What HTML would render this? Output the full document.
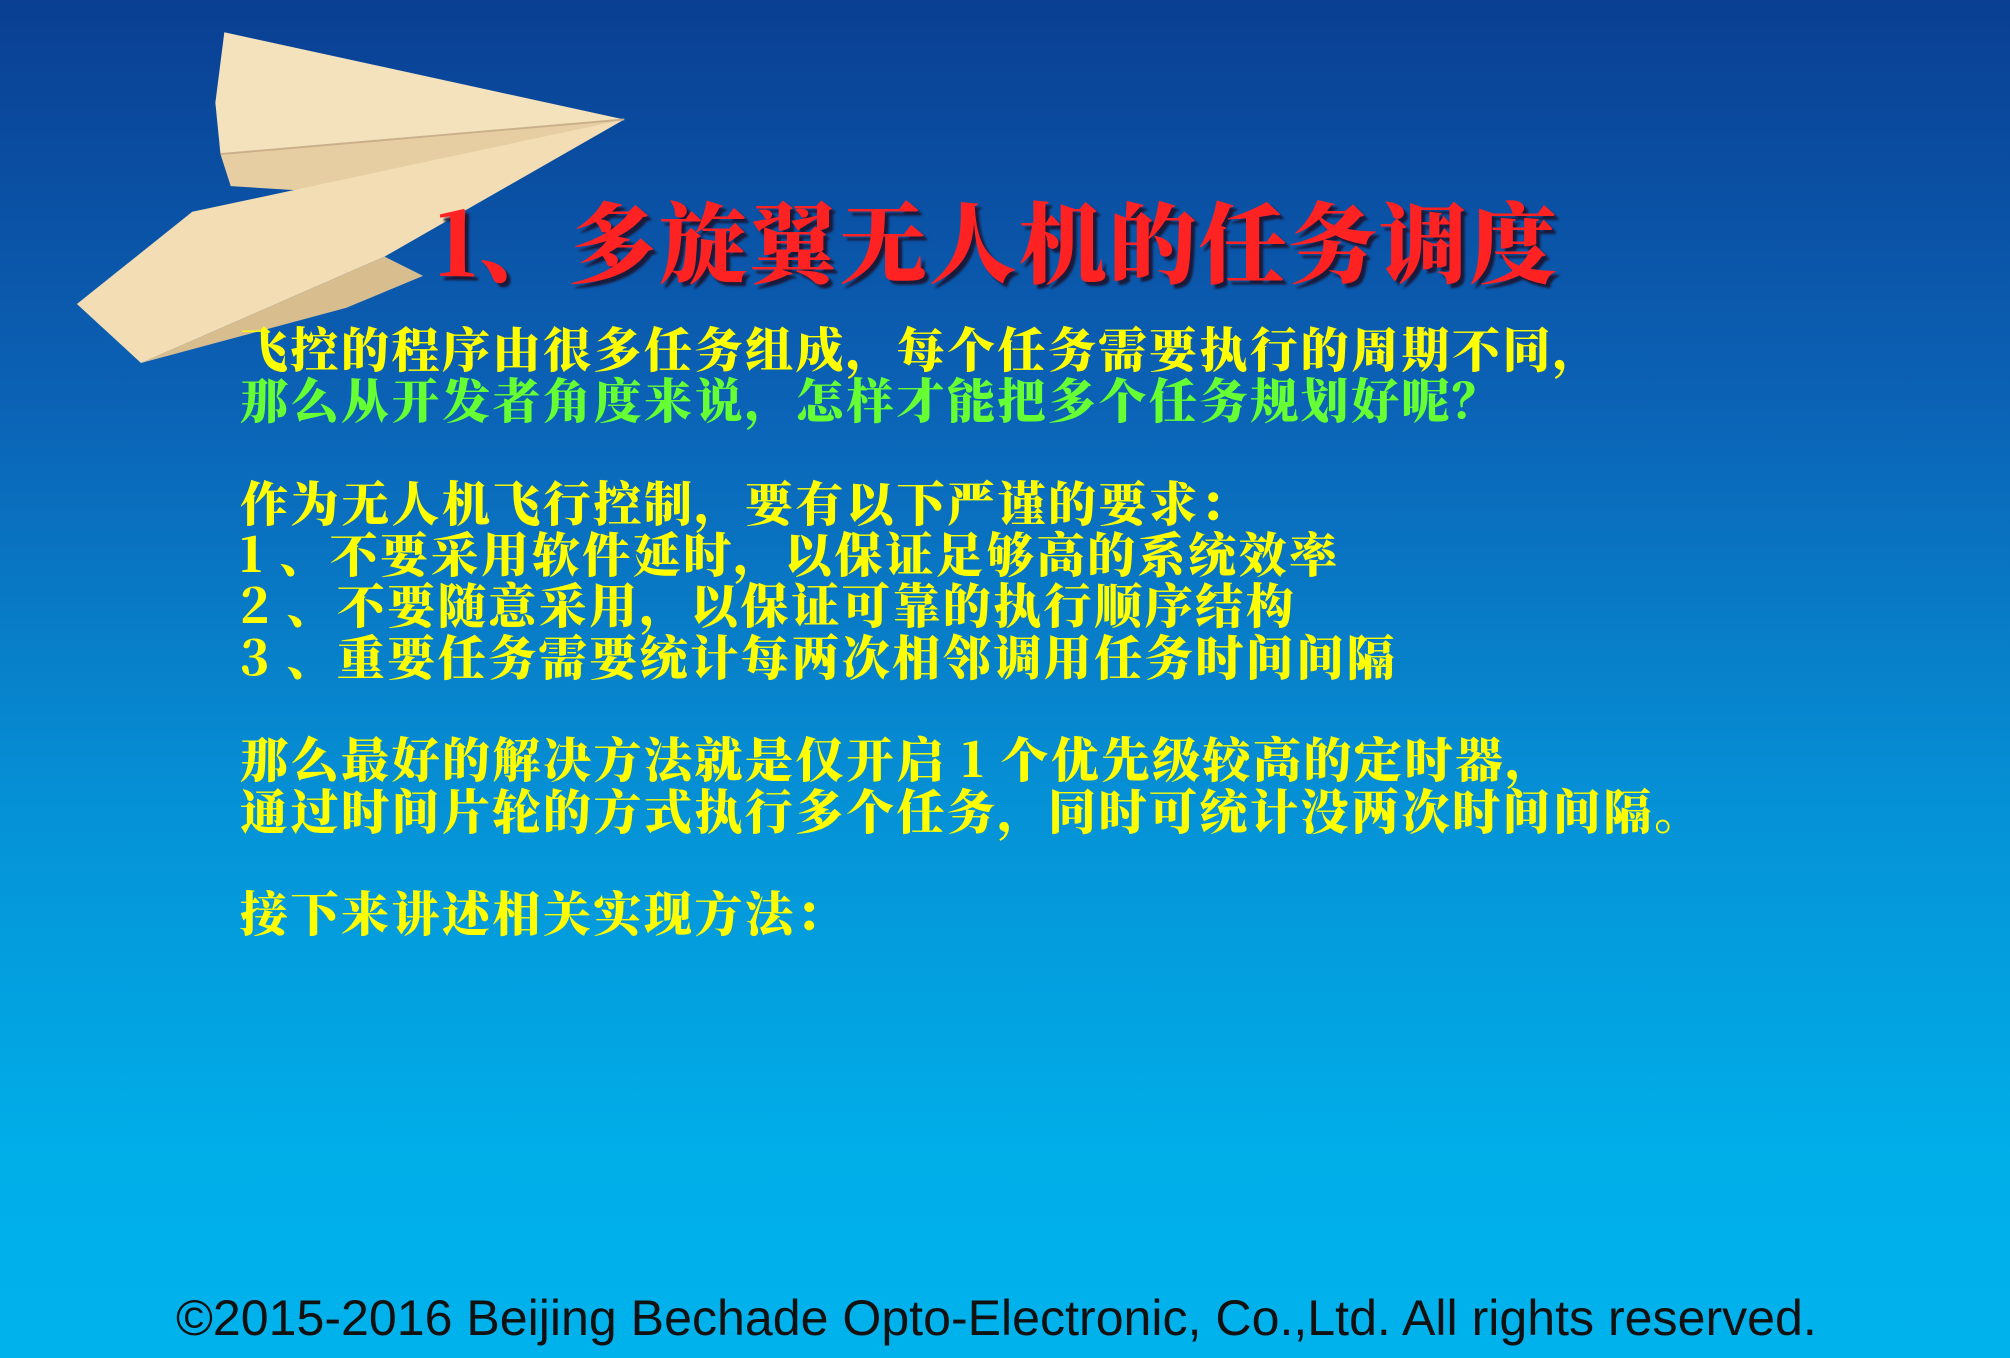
<!DOCTYPE html>
<html><head><meta charset="utf-8">
<style>
html,body{margin:0;padding:0;}
body{width:2010px;height:1358px;overflow:hidden;position:relative;
background:linear-gradient(180deg,#0a3f93 0%,#0b63b6 30%,#0592d6 60%,#00aee8 85%,#00b2ec 100%);}
.t{position:absolute;white-space:pre;font-family:"Noto Serif CJK SC","Liberation Serif",serif;font-weight:900;}
#title{left:436px;top:191px;font-size:88px;line-height:96px;color:#ff2222;text-shadow:4px 4px 2px #1a1a3a;letter-spacing:2px;}
#body{left:240px;top:321px;font-size:48px;line-height:51.3px;color:#ffff00;letter-spacing:2.5px;}
.g{color:#66ff33;}
#footer{position:absolute;left:176px;top:1289px;font-family:"Liberation Sans",sans-serif;font-size:50.1px;color:#111;white-space:pre;}
svg{position:absolute;left:0;top:0;}
</style></head><body>
<svg width="2010" height="1358" viewBox="0 0 1568 1059">
<polygon points="175,25 487,93 172,120 168,80" fill="#f4e2bd"/>
<polygon points="172,120 487,93 260,150 180,145" fill="#e6cea2"/>
<polygon points="150,165 487,93 300,200 110,283 60,237" fill="#f2ddb5"/>
<polygon points="110,283 300,200 330,215 270,240" fill="#d8bd8e"/>
<polyline points="172,120 487,93" stroke="#c9b08a" stroke-width="1.5" fill="none"/>
</svg>
<div id="title" class="t">1、多旋翼无人机的任务调度</div>
<div id="body" class="t">飞控的程序由很多任务组成，每个任务需要执行的周期不同，
<span class="g">那么从开发者角度来说，怎样才能把多个任务规划好呢？</span>

作为无人机飞行控制，要有以下严谨的要求：
1 、不要采用软件延时，以保证足够高的系统效率
2 、不要随意采用，以保证可靠的执行顺序结构
3 、重要任务需要统计每两次相邻调用任务时间间隔

那么最好的解决方法就是仅开启 1 个优先级较高的定时器，
通过时间片轮的方式执行多个任务，同时可统计没两次时间间隔。

接下来讲述相关实现方法：</div>
<div id="footer">©2015-2016 Beijing Bechade Opto-Electronic, Co.,Ltd. All rights reserved.</div>
</body></html>
